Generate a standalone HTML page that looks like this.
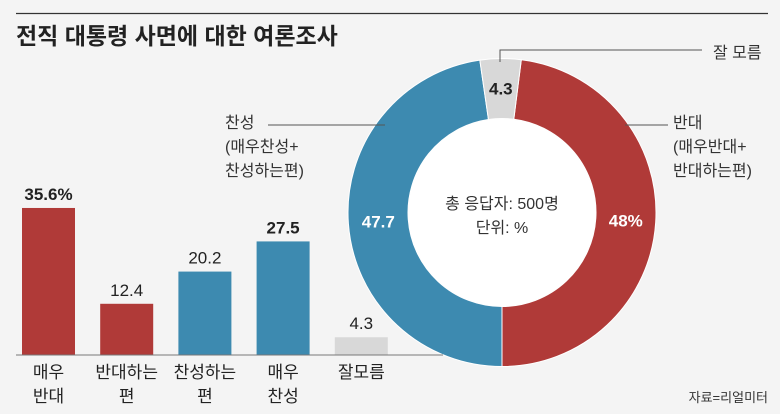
<!DOCTYPE html>
<html><head><meta charset="utf-8"><style>
body{margin:0;background:#f4f4f4;}
svg{display:block;font-family:"Liberation Sans","Noto Sans CJK KR",sans-serif;}
</style></head><body>
<svg width="780" height="414" viewBox="0 0 780 414">
<rect width="780" height="414" fill="#f4f4f4"/>
<line x1="16" y1="13.5" x2="768" y2="13.5" stroke="#333" stroke-width="1.2"/>
<text x="16" y="44" font-size="23" font-weight="bold" fill="#222">전직 대통령 사면에 대한 여론조사</text>
<g id="bars"></g>
<g id="donut"></g>
<g font-size="16" fill="#333">
<text x="713" y="58">잘 모름</text>
<polyline points="500,62 500,50 702,50" fill="none" stroke="#555" stroke-width="1"/>
<text><tspan x="225" y="128">찬성</tspan><tspan x="225" y="152">(매우찬성+</tspan><tspan x="225" y="176">찬성하는편)</tspan></text>
<line x1="268" y1="125" x2="385" y2="125" stroke="#555"/>
<text><tspan x="673" y="128">반대</tspan><tspan x="673" y="152">(매우반대+</tspan><tspan x="673" y="176">반대하는편)</tspan></text>
<line x1="625" y1="125" x2="668" y2="125" stroke="#555"/>
<text x="502" y="209" text-anchor="middle">총 응답자: 500명</text>
<text x="502" y="233" text-anchor="middle">단위: %</text>
<text x="768" y="402" text-anchor="end" font-size="13">자료=리얼미터</text>
</g>
<line x1="16" y1="355" x2="443" y2="355" stroke="#777" stroke-width="1"/>
</svg>
<script>
const barCats=[["매우","반대"],["반대하는","편"],["찬성하는","편"],["매우","찬성"],["잘모름"]];
const barValues=[35.6,12.4,20.2,27.5,4.3];
const barLabels=["35.6%","12.4","20.2","27.5","4.3"];
const barColors=["#b03a38","#b03a38","#3d8ab0","#3d8ab0","#d8d8d8"];
const barBold=[true,false,false,true,false];
const donutCats=["반대","찬성","잘 모름"];
const donutValues=[48,47.7,4.3];
const donutLabels=["48%","47.7","4.3"];
const donutColors=["#b03a38","#3d8ab0","#d8d8d8"];
const NS="http://www.w3.org/2000/svg";
const yScale=v=>355-v*4.13;
const xBand=i=>22+i*78.2;
const bg=document.getElementById('bars');
barValues.forEach((v,i)=>{
 const r=document.createElementNS(NS,'rect');
 
 
 r.setAttribute('x',xBand(i));r.setAttribute('y',yScale(v));
 r.setAttribute('width',53);r.setAttribute('height',355-yScale(v));
 r.setAttribute('fill',barColors[i]);bg.appendChild(r);
 const t=document.createElementNS(NS,'text');
 
 
 t.setAttribute('x',xBand(i)+26.5);t.setAttribute('y',yScale(v)-8);
 t.setAttribute('text-anchor','middle');t.setAttribute('font-size','17');
 t.setAttribute('fill','#222');if(barBold[i])t.setAttribute('font-weight','bold');
 t.textContent=barLabels[i];bg.appendChild(t);
 barCats[i].forEach((s,j)=>{
  const c=document.createElementNS(NS,'text');
  
  
  c.setAttribute('x',xBand(i)+26.5);c.setAttribute('y',378+j*24);
  c.setAttribute('text-anchor','middle');c.setAttribute('font-size','17');c.setAttribute('fill','#222');
  c.textContent=s;bg.appendChild(c);
 });
});
const cx=502,cy=212.5,R=154,r0=94;
const total=donutValues.reduce((a,b)=>a+b,0);
const dg=document.getElementById('donut');
const pt=(a,rad)=>[cx+rad*Math.sin(a),cy-rad*Math.cos(a)];
// red clockwise ending at bottom; start red at 180deg - its sweep
let ang=Math.PI-donutValues[0]/total*2*Math.PI;
const order=[0,1,2];
order.forEach(i=>{
 const sw=donutValues[i]/total*2*Math.PI;
 const a0=ang,a1=ang+sw;ang=a1;
 const [x0,y0]=pt(a0,R),[x1,y1]=pt(a1,R),[x2,y2]=pt(a1,r0),[x3,y3]=pt(a0,r0);
 const lg=sw>Math.PI?1:0;
 const p=document.createElementNS(NS,'path');
 
 
 p.setAttribute('d',`M${x0},${y0}A${R},${R} 0 ${lg} 1 ${x1},${y1}L${x2},${y2}A${r0},${r0} 0 ${lg} 0 ${x3},${y3}Z`);
 p.setAttribute('fill',donutColors[i]);p.setAttribute('stroke','#fff');p.setAttribute('stroke-width','1');
 dg.appendChild(p);
 const m=(a0+a1)/2;const [lx,ly]=pt(m,(R+r0)/2);
 const t=document.createElementNS(NS,'text');
 
 
 t.setAttribute('x',lx);t.setAttribute('y',ly+6);t.setAttribute('text-anchor','middle');
 t.setAttribute('font-size','17');t.setAttribute('font-weight','bold');
 t.setAttribute('fill',i==2?'#222':'#fff');t.textContent=donutLabels[i];dg.appendChild(t);
});
const ci=document.createElementNS(NS,'circle');


ci.setAttribute('cx',cx);ci.setAttribute('cy',cy);ci.setAttribute('r',r0-0.5);ci.setAttribute('fill','#fff');
dg.appendChild(ci);
</script>
</body></html>
